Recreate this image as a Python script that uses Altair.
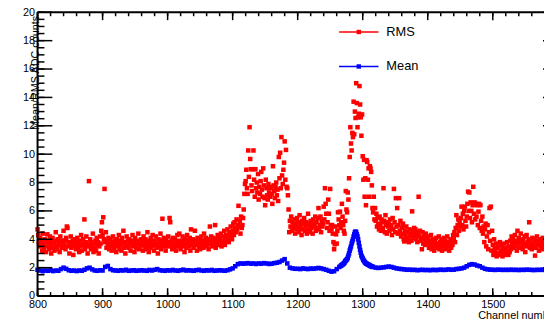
import altair as alt
import pandas as pd

# ---- RMS values, one per channel (800 .. 1599) ----
rms_800_999 = [
    4.7, 4.3, 3.8, 3.5, 4.1, 3.6, 3.9, 3.2, 4.4, 3.7, 3.4, 4.0, 3.6, 3.1, 3.8, 4.35, 3.5, 3.9, 3.3, 4.2,
    3.6, 3.0, 3.8, 4.1, 3.4, 3.7, 3.2, 3.9, 4.5, 3.5, 3.3, 4.0, 3.6, 3.8, 3.1, 4.2, 3.7, 3.4, 3.9, 3.5,
    4.6, 3.6, 3.9, 3.3, 4.1, 4.9, 4.8, 3.5, 3.8, 3.0, 3.7, 4.2, 3.4, 3.6, 3.9, 2.9, 3.5, 4.0, 3.7, 3.3,
    3.8, 4.1, 3.4, 3.6, 3.1, 3.9, 3.5, 4.3, 3.2, 3.7, 4.0, 3.6, 5.4, 3.3, 3.8, 4.2, 3.5, 3.0, 3.7, 8.1,
    3.6, 4.0, 3.3, 3.8, 3.5, 4.4, 3.1, 3.7, 3.4, 3.9, 3.2, 4.1, 3.6, 3.8, 3.0, 3.5, 4.2, 3.7, 4.6, 5.2,
    4.3, 5.55, 4.0, 7.55, 3.8, 4.5, 3.4, 3.9, 3.6, 4.1, 3.3, 3.7, 4.0, 3.5, 3.2, 3.8, 4.2, 3.6, 3.4, 3.9,
    3.7, 3.1, 4.0, 3.5, 3.8, 4.3, 3.3, 3.6, 3.9, 3.2, 4.1, 3.7, 4.6, 3.4, 3.8, 3.0, 3.6, 4.2, 3.5, 3.9,
    3.4, 4.0, 3.7, 3.2, 3.9, 3.6, 4.3, 3.5, 3.8, 3.1, 4.1, 3.6, 3.4, 3.9, 3.7, 4.4, 3.3, 3.8, 3.5, 4.0,
    3.6, 3.9, 3.2, 4.2, 3.7, 3.5, 4.0, 3.3, 3.8, 4.5, 3.6, 3.1, 3.9, 3.4, 4.1, 3.7, 3.5, 4.3, 3.8, 3.2,
    3.9, 3.6, 4.2, 3.4, 3.7, 3.0, 4.0, 3.5, 3.8, 4.4, 3.3, 3.9, 5.45, 3.6, 4.1, 3.5, 3.8, 3.2, 4.0, 3.7,
]
rms_1000_1199 = [
    3.5, 4.2, 3.8, 5.5, 5.2, 3.6, 3.9, 3.3, 4.1, 3.7, 3.4, 4.0, 3.6, 3.2, 3.9, 4.3, 3.5, 3.8, 4.4, 3.6,
    3.3, 3.9, 3.7, 4.2, 3.5, 3.8, 3.1, 4.0, 3.6, 3.4, 4.3, 3.7, 3.9, 3.5, 4.1, 3.2, 4.7, 3.8, 3.6, 4.0,
    3.4, 3.9, 4.6, 3.6, 3.8, 3.2, 4.1, 3.7, 3.5, 4.0, 3.3, 3.8, 4.2, 3.6, 3.9, 3.4, 4.4, 3.7, 3.5, 4.1,
    3.8, 3.6, 4.0, 3.3, 3.9, 4.9, 3.7, 4.2, 3.5, 3.8, 4.1, 3.6, 3.9, 5.0, 3.4, 4.0, 3.7, 4.3, 3.6, 3.9,
    4.1, 3.7, 4.4, 3.5, 3.9, 4.2, 3.8, 4.6, 3.6, 4.0, 4.3, 3.9, 4.7, 4.1, 3.8, 4.5, 4.2, 4.9, 4.4, 4.0,
    4.6, 5.1, 4.3, 5.2, 4.8, 4.5, 5.4, 4.7, 5.0, 6.36, 4.9, 5.3, 4.4, 5.6, 4.8, 5.0, 5.5, 6.1, 7.2, 7.9,
    8.1, 8.9, 7.6, 7.2, 10.26, 8.4, 11.9, 9.66, 8.94, 7.8, 7.4, 8.94, 10.26, 8.2, 7.0, 8.94, 7.6, 8.0, 7.3, 8.6,
    6.8, 7.7, 7.2, 8.1, 8.75, 7.5, 7.0, 9.0, 7.8, 6.9, 6.4, 8.2, 7.6, 7.1, 6.8, 7.9, 7.3, 7.6, 7.0, 7.7,
    7.2, 6.5, 9.15, 7.8, 7.4, 6.9, 7.7, 8.0, 7.1, 7.5, 6.7, 9.8, 8.3, 10.1, 7.6, 11.2, 8.5, 7.9, 8.9, 9.4,
    10.9, 8.2, 10.3, 7.7, 7.6, 7.1, 6.1, 4.5, 5.3, 4.9, 5.6, 4.6, 5.2, 4.8, 5.0, 5.4, 4.4, 5.1, 4.7, 5.5,
]
rms_1200_1399 = [
    4.9, 5.2, 4.5, 5.7, 4.8, 5.0, 4.3, 5.3, 4.7, 5.1, 5.5, 4.6, 4.9, 5.2, 4.4, 5.0, 5.8, 4.7, 5.1, 4.5,
    5.3, 4.8, 5.0, 4.4, 5.4, 4.9, 5.1, 5.6, 4.6, 5.2, 4.8, 5.5, 6.2, 4.7, 5.0, 5.6, 4.5, 5.3, 4.9, 5.1,
    6.3, 5.4, 7.6, 6.5, 5.8, 4.8, 5.2, 6.8, 5.8, 4.6, 7.55, 5.0, 4.7, 5.0, 4.4, 3.8, 3.3, 3.65, 4.9, 4.35,
    3.7, 4.6, 5.9, 5.4, 5.0, 5.95, 4.8, 5.2, 6.5, 5.6, 5.0, 4.6, 4.4, 5.3, 7.4, 6.1, 5.9, 7.3, 6.8, 8.3,
    9.8, 11.9, 10.75, 10.26, 11.5, 11.2, 13.7, 11.4, 13.0, 12.55, 15.0, 13.6, 11.9, 12.6, 12.85, 14.8, 13.5, 12.6, 11.3, 12.8,
    9.85, 8.2, 9.6, 7.0, 8.3, 6.4, 9.57, 9.45, 8.2, 9.0, 7.0, 9.15, 9.0, 8.75, 7.8, 6.2, 5.9, 7.0, 5.4, 6.2,
    5.3, 5.8, 4.9, 5.5, 5.1, 4.7, 5.6, 5.0, 4.6, 5.4, 5.2, 4.8, 7.6, 5.3, 4.5, 5.7, 5.0, 4.4, 5.2, 4.9,
    5.1, 4.6, 5.4, 4.8, 5.0, 4.3, 5.5, 4.7, 7.55, 5.2, 4.5, 6.9, 4.9, 6.2, 4.4, 5.0, 6.9, 4.6, 5.3, 4.2,
    4.8, 4.4, 5.1, 4.0, 3.85, 4.6, 4.3, 4.9, 4.1, 4.5, 3.9, 3.8, 4.7, 4.2, 4.4, 3.9, 5.97, 4.6, 4.1, 4.8,
    4.3, 4.7, 4.0, 4.5, 3.8, 4.4, 7.0, 4.2, 4.6, 3.9, 4.1, 3.3, 4.5, 3.7, 4.2, 4.0, 3.6, 4.4, 3.8, 4.1,
]
rms_1400_1599 = [
    3.7, 4.2, 3.4, 3.9, 3.6, 4.3, 3.3, 3.8, 4.0, 3.5, 3.2, 3.9, 3.6, 4.1, 3.4, 3.7, 3.5, 4.2, 3.3, 3.8,
    3.6, 4.0, 3.2, 3.7, 3.5, 4.1, 3.4, 3.9, 3.3, 3.6, 4.2, 3.5, 3.8, 3.2, 3.7, 4.0, 3.4, 3.9, 3.6, 4.3,
    4.0, 4.5, 3.8, 4.8, 5.7, 4.3, 5.0, 5.4, 4.6, 5.2, 4.9, 5.5, 6.3, 5.0, 5.8, 4.7, 6.0, 6.3, 5.3, 4.9,
    5.6, 6.5, 7.36, 6.0, 7.3, 5.5, 6.6, 6.0, 5.2, 6.4, 7.7, 5.8, 6.6, 5.4, 6.5, 5.6, 6.4, 5.0, 5.95, 6.5,
    4.8, 6.4, 5.3, 4.6, 5.6, 4.4, 4.9, 3.8, 4.7, 5.1, 3.5, 4.2, 5.0, 3.3, 4.5, 6.2, 3.9, 6.3, 3.2, 4.6,
    3.6, 2.9, 4.0, 3.3, 3.1, 3.7, 2.8, 3.4, 3.0, 3.5, 2.9, 3.8, 3.2, 3.0, 3.6, 2.8, 3.3, 3.1, 3.7, 2.9,
    3.4, 3.0, 3.8, 3.2, 2.9, 3.5, 3.1, 3.9, 3.3, 4.2, 3.6, 4.0, 3.4, 3.8, 4.3, 3.5, 3.9, 3.2, 4.6, 3.7,
    4.1, 3.4, 3.8, 4.4, 3.5, 3.9, 3.3, 4.0, 3.6, 4.2, 3.1, 3.7, 4.3, 3.5, 3.8, 4.0, 5.2, 3.4, 3.9, 3.6,
    3.3, 4.1, 3.7, 3.5, 4.0, 2.85, 3.8, 3.4, 4.2, 3.6, 3.9, 3.2, 3.7, 4.0, 3.5, 3.8, 3.3, 4.1, 3.6, 3.9,
    3.5, 4.0, 3.7, 3.3, 3.9, 3.6, 4.2, 3.4, 3.8, 3.5, 4.1, 3.6, 3.3, 3.9, 3.7, 4.0, 3.4, 3.8, 3.5, 3.9,
]

# ---- Mean values: every 4th channel outside the peak, every channel across it ----
mean_800_1264 = [  # channels 800, 804, ..., 1264
    1.85, 1.8, 1.75, 1.8, 1.78, 1.82, 1.76, 1.8, 1.78, 1.9, 2.0, 1.92, 1.82, 1.78, 1.8, 1.76, 1.8, 1.78, 1.85, 1.95,
    2.0, 1.88, 1.8, 1.78, 1.82, 1.8, 2.05, 2.12, 1.9, 1.82, 1.8, 1.78, 1.82, 1.8, 1.85, 1.78, 1.8, 1.82, 1.78, 1.8,
    1.82, 1.8, 1.78, 1.84, 1.8, 1.85, 1.9, 1.82, 1.8, 1.78, 1.82, 1.8, 1.84, 1.8, 1.78, 1.82, 1.86, 1.8, 1.82, 1.8,
    1.78, 1.82, 1.85, 1.8, 1.78, 1.82, 1.8, 1.84, 1.78, 1.8, 1.82, 1.8, 1.78, 1.82, 1.88, 1.95, 2.1, 2.25, 2.3, 2.28,
    2.3, 2.32, 2.28, 2.3, 2.26, 2.3, 2.28, 2.32, 2.3, 2.26, 2.28, 2.32, 2.35, 2.4, 2.5, 2.6, 2.3, 2.0, 1.95, 1.92,
    1.92, 1.9, 1.95, 1.92, 1.9, 1.94, 1.92, 1.95, 1.98, 1.95, 1.9, 1.85, 1.78, 1.72, 1.75, 1.9, 2.05,
]
mean_1266_1316 = [  # channels 1266 .. 1316, one per channel
    2.12, 2.15, 2.2, 2.22, 2.26, 2.3, 2.35, 2.45, 2.5, 2.55, 2.6, 2.7, 2.85, 3.0, 3.2, 3.35, 3.5,
    3.7, 3.85, 4.0, 4.2, 4.35, 4.5, 4.55, 4.5, 4.35, 4.2, 4.0, 3.75, 3.5, 3.25, 3.05, 2.85, 2.75,
    2.65, 2.55, 2.48, 2.4, 2.35, 2.3, 2.28, 2.25, 2.22, 2.2, 2.18, 2.15, 2.12, 2.1, 2.08, 2.06, 2.05,
]
mean_1320_1596 = [  # channels 1320, 1324, ..., 1596
    2.0, 1.98, 2.0, 2.02, 2.05, 2.08, 2.05, 2.0, 1.95, 1.92,
    1.9, 1.88, 1.85, 1.86, 1.84, 1.85, 1.82, 1.84, 1.85, 1.83, 1.84, 1.82, 1.85, 1.83, 1.84, 1.86, 1.84, 1.85, 1.88, 1.85,
    1.86, 1.9, 1.92, 1.95, 2.0, 2.1, 2.2, 2.25, 2.22, 2.15, 2.1, 2.0, 1.92, 1.88, 1.86, 1.85, 1.84, 1.86, 1.85, 1.84,
    1.85, 1.84, 1.86, 1.84, 1.85, 1.83, 1.85, 1.84, 1.86, 1.85, 1.84, 1.83, 1.85, 1.84, 1.86, 1.84, 1.85, 1.83, 1.84, 1.85,
]

x_labels = [800, 900, 1000, 1100, 1200, 1300, 1400, 1500]
x_major = [800, 900, 1000, 1100, 1200, 1300, 1400, 1500, 1600]
x_minor = list(range(800, 1601, 20))
y_major = [0, 2, 4, 6, 8, 10, 12, 14, 16, 18, 20]
y_minor = [v / 2 for v in range(0, 41)]
series_names = ["RMS", "Mean"]
series_colors = ["#ff0000", "#0000ff"]

rms = rms_800_999 + rms_1000_1199 + rms_1200_1399 + rms_1400_1599
df_rms = pd.DataFrame({"channel": list(range(800, 800 + len(rms))), "value": rms})
mean_channels = (list(range(800, 1265, 4)) + list(range(1266, 1317)) + list(range(1320, 1597, 4)))
mean = mean_800_1264 + mean_1266_1316 + mean_1320_1596
df_mean = pd.DataFrame({"channel": mean_channels, "value": mean})

W, H = 514, 288
XR = 528  # pixel position of channel 1600 (frame lies beyond the visible window)
FONT = "Liberation Sans"

xscale = alt.Scale(domain=[800, 1600], range=[0, XR], nice=False, zero=False)
yscale = alt.Scale(domain=[0, 20], nice=False, zero=False)

xaxis = alt.Axis(values=x_labels, format="d", domain=False, ticks=False, grid=False,
                 labelFont=FONT, labelFontSize=11, labelColor="black", labelPadding=3,
                 labelFlush=False, title="Channel number", titleFont=FONT, titleFontSize=11,
                 titleFontWeight="normal", titleColor="black", titleX=XR, titleY=14,
                 titleAlign="right", titleBaseline="top")
yaxis = alt.Axis(values=y_major, format="d", domain=False, ticks=False, grid=False,
                 labelFont=FONT, labelFontSize=11, labelColor="black", labelPadding=3,
                 title="Mean/RMS ADC counts", titleFont=FONT, titleFontSize=11,
                 titleFontWeight="normal", titleColor="black", titleAngle=270,
                 titleX=-2, titleY=3, titleAlign="right", titleBaseline="middle")

X = lambda f: alt.X(f, scale=xscale, axis=xaxis)
Y = lambda f: alt.Y(f, scale=yscale, axis=yaxis)

rms_layer = alt.Chart(df_rms).mark_square(size=21, color=series_colors[0], opacity=1).encode(
    x=X("channel:Q"), y=Y("value:Q"))
mean_layer = alt.Chart(df_mean).mark_square(size=21, color=series_colors[1], opacity=1).encode(
    x=X("channel:Q"), y=Y("value:Q"))


def xticks(vals, y0, y1):
    return alt.Chart(pd.DataFrame({"channel": vals})).mark_rule(color="black", strokeWidth=1.5).encode(
        x=X("channel:Q"), y=alt.value(y0), y2=alt.value(y1))


def yticks(vals, x0, x1):
    return alt.Chart(pd.DataFrame({"value": vals})).mark_rule(color="black", strokeWidth=1.5).encode(
        y=Y("value:Q"), x=alt.value(x0), x2=alt.value(x1))


ticks = [
    xticks(x_major, H, H - 8), xticks(x_minor, H, H - 4),
    xticks(x_major, 0, 8), xticks(x_minor, 0, 4),
    yticks(y_major, 0, 15), yticks(y_minor, 0, 7),
    yticks(y_major, XR, XR - 15), yticks(y_minor, XR, XR - 7),
]

frame = [
    alt.Chart().mark_rule(color="black", strokeWidth=2).encode(x=alt.value(0), y=alt.value(0), y2=alt.value(H)),
    alt.Chart().mark_rule(color="black", strokeWidth=2).encode(x=alt.value(0), x2=alt.value(XR), y=alt.value(H)),
    alt.Chart().mark_rule(color="black", strokeWidth=2).encode(x=alt.value(0), x2=alt.value(XR), y=alt.value(0)),
    alt.Chart().mark_rule(color="black", strokeWidth=2).encode(x=alt.value(XR), y=alt.value(0), y2=alt.value(H)),
]

legend = []
for i, (name, color) in enumerate(zip(series_names, series_colors)):
    ly = 20 + 35 * i
    legend.append(alt.Chart().mark_rule(color=color, strokeWidth=1.5).encode(
        x=alt.value(306), x2=alt.value(346), y=alt.value(ly)))
    legend.append(alt.Chart().mark_square(size=20, color=color, opacity=1).encode(
        x=alt.value(326), y=alt.value(ly)))
    legend.append(alt.Chart().mark_text(align="left", baseline="middle", font=FONT, fontSize=13,
                                        color="black").encode(
        x=alt.value(354), y=alt.value(ly), text=alt.value(name)))

chart = alt.layer(rms_layer, mean_layer, *ticks, *frame, *legend).properties(
    width=W, height=H,
    autosize=alt.AutoSizeParams(type="none"),
    padding={"left": 30, "top": 2, "right": 0, "bottom": 24},
    background="white",
).configure_view(strokeWidth=0)

chart.save("out.html", embed_options={"renderer": "svg", "actions": False})
